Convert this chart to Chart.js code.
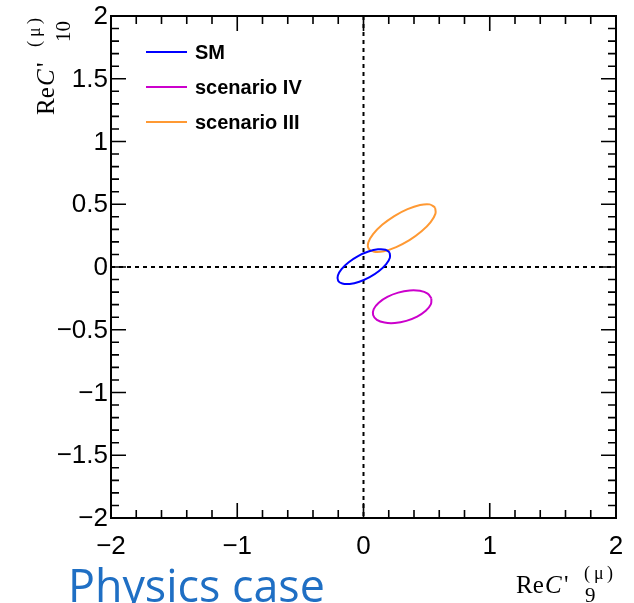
<!DOCTYPE html>
<html>
<head>
<meta charset="utf-8">
<script src="https://cdn.jsdelivr.net/npm/chart.js@4.4.1/dist/chart.umd.min.js"></script>
<style>
  html, body { margin: 0; padding: 0; background: #fff; }
  #wrap { position: relative; width: 634px; height: 603px; }
</style>
</head>
<body>
<div id="wrap"><canvas id="contourChart" width="634" height="603"></canvas></div>
<script>
// Axis ticks
const xTicks = [-2, -1, 0, 1, 2];
const yTicks = [-2, -1.5, -1, -0.5, 0, 0.5, 1, 1.5, 2];

// Model names and line colours
const seriesNames = ['SM', 'scenario IV', 'scenario III'];
const seriesColors = ['#0000ff', '#cc00cc', '#ff9933'];

// 1 sigma contours in the (Re C9', Re C10') plane
const smX = [0.207, 0.174, 0.115, 0.039, -0.043, -0.117, -0.174, -0.203, -0.201, -0.168, -0.109, -0.033, 0.049, 0.123, 0.180, 0.209];
const smY = [0.115, 0.138, 0.141, 0.123, 0.087, 0.038, -0.017, -0.068, -0.109, -0.132, -0.135, -0.117, -0.081, -0.032, 0.023, 0.074];

const scen4X = [0.538, 0.508, 0.447, 0.366, 0.275, 0.189, 0.121, 0.081, 0.076, 0.106, 0.167, 0.248, 0.339, 0.425, 0.493, 0.533];
const scen4Y = [-0.250, -0.212, -0.190, -0.187, -0.204, -0.238, -0.284, -0.335, -0.383, -0.421, -0.443, -0.446, -0.429, -0.395, -0.349, -0.298];

const scen3X = [0.567, 0.524, 0.448, 0.349, 0.244, 0.148, 0.076, 0.038, 0.041, 0.084, 0.161, 0.259, 0.364, 0.460, 0.532, 0.570];
const scen3Y = [0.474, 0.499, 0.494, 0.461, 0.406, 0.336, 0.262, 0.195, 0.146, 0.122, 0.126, 0.159, 0.214, 0.284, 0.358, 0.425];

// Build a closed loop of {x, y} points
function loop(xs, ys) {
    const pts = xs.map((x, i) => ({ x: x, y: ys[i] }));
    pts.push(pts[0]);
    return pts;
}

function fmtTick(v) {
    return v < 0 ? '\u2212' + Math.abs(v) : String(v);
}

const SANS = '"Liberation Sans", Arial, Helvetica, sans-serif';
const SERIF = '"Liberation Serif", "Times New Roman", serif';

// "Re C'^(mu)_sub" drawn from the current origin along the baseline
function drawCoefTitle(ctx, sub, subX, subY) {
    ctx.fillStyle = '#000';
    ctx.textBaseline = 'alphabetic';
    ctx.textAlign = 'left';
    ctx.font = '25px ' + SERIF;
    ctx.fillText('Re', 0, 0);
    ctx.font = 'italic 25px ' + SERIF;
    ctx.fillText('C', 29, 0);
    ctx.font = '25px ' + SERIF;
    ctx.fillText("'", 48, 0);
    ctx.font = '18px ' + SERIF;
    ctx.fillText('(', 68, -14);
    ctx.fillText('\u03bc', 78, -14);
    ctx.fillText(')', 91, -14);
    ctx.font = '21px ' + SERIF;
    ctx.fillText(sub, subX, subY);
}

// Zero lines, frame, ticks, labels, legend
const framePlugin = {
    id: 'framePlugin',
    beforeDatasetsDraw(chart) {
        const { ctx, chartArea: a, scales: { x, y } } = chart;
        ctx.save();
        ctx.strokeStyle = '#000';
        ctx.lineWidth = 2;
        ctx.setLineDash([4, 4]);
        const x0 = x.getPixelForValue(0);
        const y0 = y.getPixelForValue(0);
        ctx.beginPath();
        ctx.moveTo(x0, a.top); ctx.lineTo(x0, a.bottom);
        ctx.moveTo(a.left, y0); ctx.lineTo(a.right, y0);
        ctx.stroke();
        ctx.restore();
    },
    afterDraw(chart) {
        const { ctx, chartArea: a, scales: { x, y } } = chart;
        ctx.save();
        ctx.strokeStyle = '#000';
        ctx.lineWidth = 1.6;

        // minor + major ticks, mirrored on opposite sides
        ctx.beginPath();
        for (let i = -10; i <= 10; i++) {
            const px = x.getPixelForValue(i / 5);
            const len = i % 5 === 0 ? 15 : 8;
            ctx.moveTo(px, a.bottom); ctx.lineTo(px, a.bottom - len);
            ctx.moveTo(px, a.top); ctx.lineTo(px, a.top + len);
        }
        for (let i = -20; i <= 20; i++) {
            const py = y.getPixelForValue(i / 10);
            const len = i % 5 === 0 ? 15 : 8;
            ctx.moveTo(a.left, py); ctx.lineTo(a.left + len, py);
            ctx.moveTo(a.right, py); ctx.lineTo(a.right - len, py);
        }
        ctx.stroke();

        ctx.lineWidth = 2;
        ctx.strokeRect(a.left, a.top, a.right - a.left, a.bottom - a.top);

        // tick labels
        ctx.fillStyle = '#000';
        ctx.font = '26px ' + SANS;
        ctx.textAlign = 'center';
        ctx.textBaseline = 'alphabetic';
        xTicks.forEach(v => ctx.fillText(fmtTick(v), x.getPixelForValue(v), a.bottom + 36));
        ctx.textAlign = 'right';
        ctx.textBaseline = 'middle';
        yTicks.forEach(v => ctx.fillText(fmtTick(v), a.left - 3, y.getPixelForValue(v) + 1));

        // legend
        ctx.font = 'bold 20px ' + SANS;
        ctx.textAlign = 'left';
        seriesNames.forEach((name, i) => {
            const ly = 52 + i * 35;
            ctx.strokeStyle = seriesColors[i];
            ctx.lineWidth = 2;
            ctx.beginPath();
            ctx.moveTo(146, ly); ctx.lineTo(187, ly);
            ctx.stroke();
            ctx.fillStyle = '#000';
            ctx.fillText(name, 195, ly + 1);
        });

        // axis titles
        ctx.save();
        ctx.translate(516, 593);
        drawCoefTitle(ctx, '9', 69, 9);
        ctx.restore();
        ctx.save();
        ctx.translate(54, 115);
        ctx.rotate(-Math.PI / 2);
        drawCoefTitle(ctx, '10', 73, 16);
        ctx.restore();

        // caption
        ctx.fillStyle = '#1f6fc4';
        ctx.textAlign = 'left';
        ctx.textBaseline = 'alphabetic';
        ctx.font = '42px "Open Sans", sans-serif';
        const w = ctx.measureText('Physics case').width;
        ctx.font = (42 * 257 / w).toFixed(1) + 'px "Open Sans", sans-serif';
        ctx.fillText('Physics case', 68, 602);
        ctx.restore();
    }
};

const datasets = [
    { label: seriesNames[0], data: loop(smX, smY), borderColor: seriesColors[0] },
    { label: seriesNames[1], data: loop(scen4X, scen4Y), borderColor: seriesColors[1] },
    { label: seriesNames[2], data: loop(scen3X, scen3Y), borderColor: seriesColors[2] }
].map(d => ({ ...d, showLine: true, pointRadius: 0, borderWidth: 2, tension: 0.4, fill: false }));

new Chart(document.getElementById('contourChart').getContext('2d'), {
    type: 'scatter',
    data: { datasets: datasets },
    options: {
        responsive: false,
        animation: false,
        layout: { padding: { left: 111, right: 18, top: 16, bottom: 85 } },
        scales: {
            x: { type: 'linear', min: -2, max: 2, display: false },
            y: { type: 'linear', min: -2, max: 2, display: false }
        },
        plugins: { legend: { display: false }, tooltip: { enabled: false } }
    },
    plugins: [framePlugin]
});
</script>
</body>
</html>
